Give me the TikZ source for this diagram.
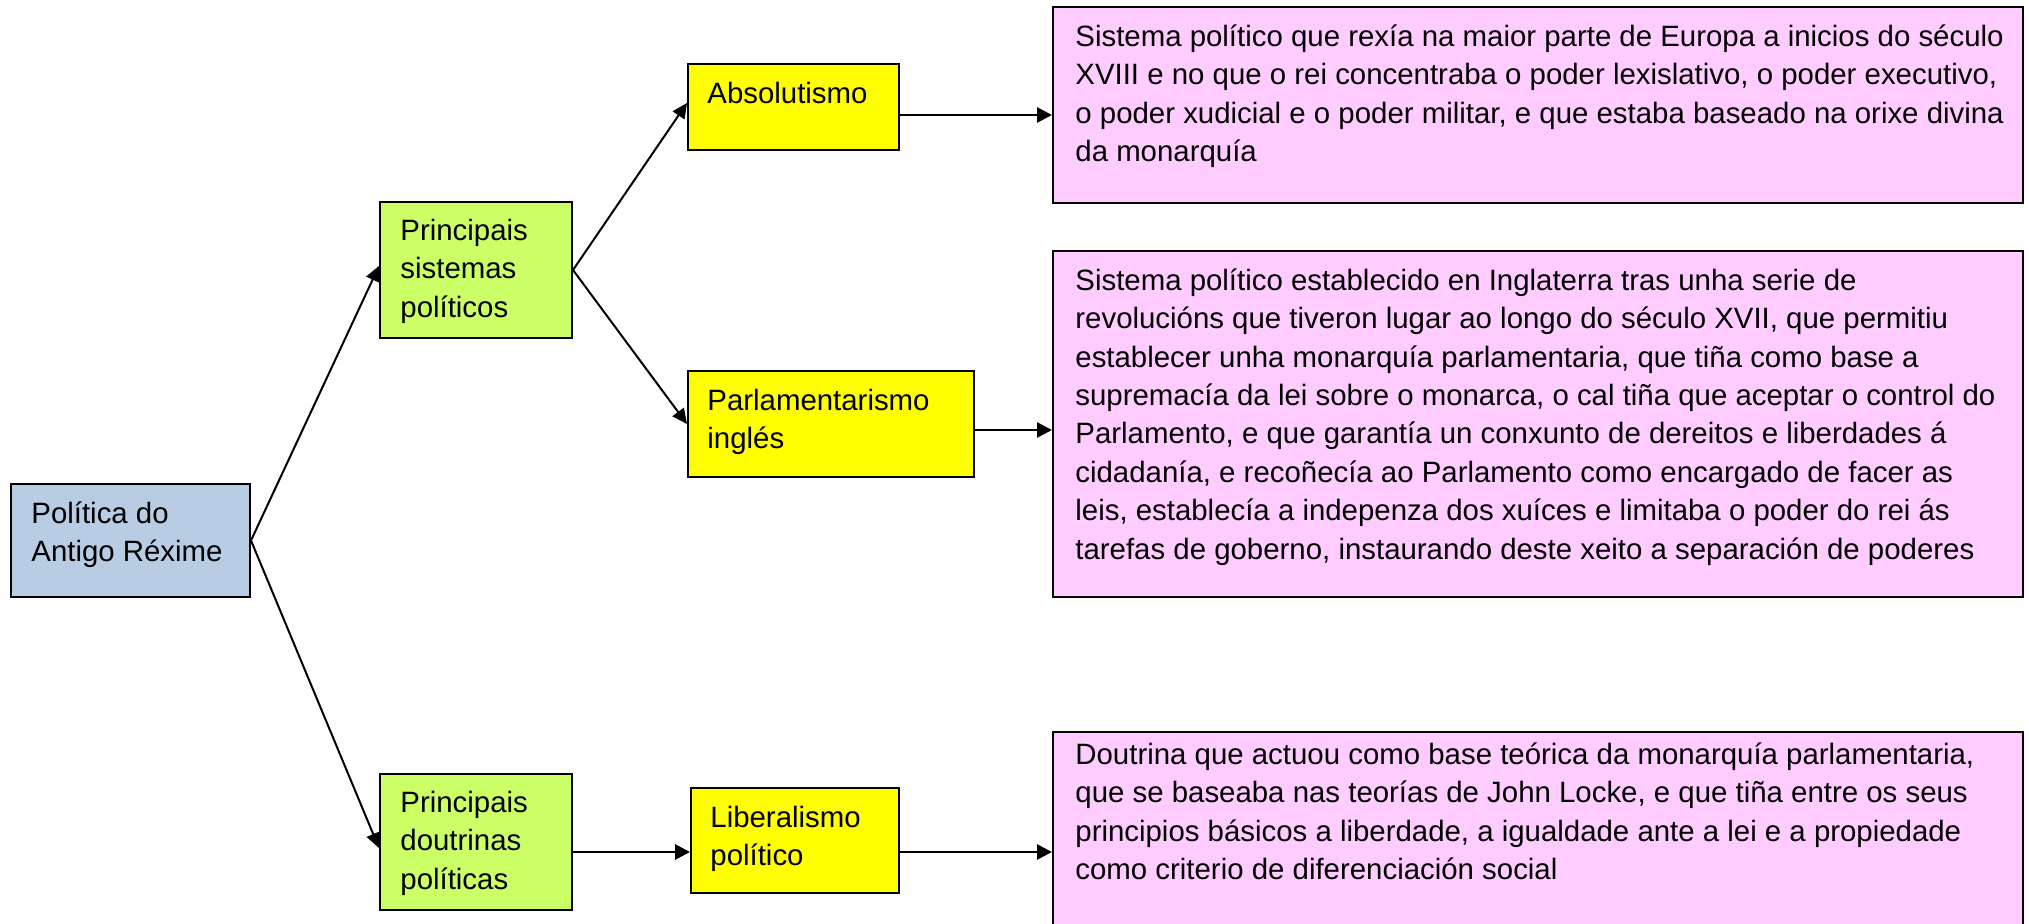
\documentclass[tikz,border=0pt]{standalone}
\usepackage{fontspec}
\setmainfont{Liberation Sans}
\usetikzlibrary{arrows.meta}
\definecolor{cblue}{HTML}{B8CCE4}
\definecolor{cgreen}{HTML}{CCFF66}
\definecolor{cyellow}{HTML}{FFFF00}
\definecolor{cpink}{HTML}{FFCCFF}
\tikzset{
  box/.style={draw=black, line width=1pt, inner sep=0pt, anchor=north west},
  txt/.style={anchor=north west, inner sep=0pt, align=left, font=\fontsize{14.7}{19.2}\selectfont},
  diag/.style={line width=1pt, -{Triangle[length=7.5pt,width=7pt]}},
  horiz/.style={line width=1.4pt, -{Triangle[length=7.5pt,width=7.5pt]}}
}
\begin{document}
\begin{tikzpicture}[x=0.5pt,y=-0.5pt]
\useasboundingbox (0,0) rectangle (2029,924);
% boxes
\node[box, fill=cblue, minimum width=119.5pt, minimum height=56.5pt] (pol) at (10,483) {};
\node[box, fill=cgreen, minimum width=96pt, minimum height=68pt] (sis) at (379,201) {};
\node[box, fill=cgreen, minimum width=96pt, minimum height=68pt] (dou) at (379,773) {};
\node[box, fill=cyellow, minimum width=105.5pt, minimum height=43pt] (abs) at (687,63) {};
\node[box, fill=cyellow, minimum width=143pt, minimum height=53pt] (par) at (687,370) {};
\node[box, fill=cyellow, minimum width=104pt, minimum height=52.5pt] (lib) at (690,787) {};
\node[box, fill=cpink, minimum width=485pt, minimum height=98pt] (p1) at (1052,6) {};
\node[box, fill=cpink, minimum width=485pt, minimum height=173pt] (p2) at (1052,250) {};
\node[box, fill=cpink, minimum width=485pt, minimum height=100pt] (p3) at (1052,731) {};
% texts
\node[txt] (polt) at (31,496) {\strut Política do\\Antigo Réxime};
\node[txt] (sist) at (400,213) {\strut Principais\\sistemas\\políticos};
\node[txt] (dout) at (400,785) {\strut Principais\\doutrinas\\políticas};
\node[txt] (abst) at (707,76) {\strut Absolutismo};
\node[txt] (part) at (707,383) {\strut Parlamentarismo\\inglés};
\node[txt] (libt) at (710,800) {\strut Liberalismo\\político};
\node[txt] (p1t) at (1075,19) {\strut Sistema político que rexía na maior parte de Europa a inicios do século\\XVIII e no que o rei concentraba o poder lexislativo, o poder executivo,\\o poder xudicial e o poder militar, e que estaba baseado na orixe divina\\da monarquía};
\node[txt] (p2t) at (1075,263) {\strut Sistema político establecido en Inglaterra tras unha serie de\\revolucións que tiveron lugar ao longo do século XVII, que permitiu\\establecer unha monarquía parlamentaria, que tiña como base a\\supremacía da lei sobre o monarca, o cal tiña que aceptar o control do\\Parlamento, e que garantía un conxunto de dereitos e liberdades á\\cidadanía, e recoñecía ao Parlamento como encargado de facer as\\leis, establecía a indepenza dos xuíces e limitaba o poder do rei ás\\tarefas de goberno, instaurando deste xeito a separación de poderes};
\node[txt] (p3t) at (1075,737) {\strut Doutrina que actuou como base teórica da monarquía parlamentaria,\\que se baseaba nas teorías de John Locke, e que tiña entre os seus\\principios básicos a liberdade, a igualdade ante a lei e a propiedade\\como criterio de diferenciación social};
% connectors
\draw[diag] (pol.east) -- ([yshift=2pt]sis.west);
\draw[diag] (pol.east) -- ([yshift=-3pt]dou.west);
\draw[diag] (sis.east) -- ([yshift=2pt]abs.west);
\draw[diag] (sis.east) -- (par.west);
\draw[horiz] ([yshift=-4pt]abs.east) -- ([yshift=-4pt]abs.east -| p1.west);
\draw[horiz] ([yshift=-3pt]par.east) -- ([yshift=-3pt]par.east -| p2.west);
\draw[horiz] ([yshift=-5pt]dou.east) -- ([yshift=-5pt]dou.east -| lib.west);
\draw[horiz] ([yshift=-5pt]dou.east -| lib.east) -- ([yshift=-5pt]dou.east -| p3.west);
\end{tikzpicture}
\end{document}
